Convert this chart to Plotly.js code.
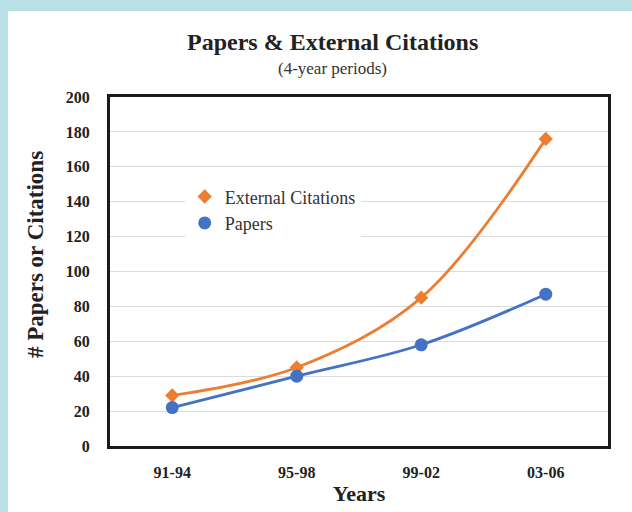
<!DOCTYPE html>
<html>
<head>
<meta charset="utf-8">
<script src="https://cdn.plot.ly/plotly-3.0.1.min.js"></script>
<style>
  html, body { margin: 0; padding: 0; width: 632px; height: 512px; background: #b9e1e5; overflow: hidden; }
  #panel { position: absolute; left: 8px; top: 11px; width: 624px; height: 501px; background: #ffffff; }
  #chart { position: absolute; left: 0; top: 0; width: 632px; height: 512px; }
</style>
</head>
<body>
<div id="panel"></div>
<div id="chart"></div>
<script>
const periods = ['91-94', '95-98', '99-02', '03-06'];
const citations = [29, 45, 85, 176];
const papers = [22, 40, 58, 87];
const yTicks = [0, 20, 40, 60, 80, 100, 120, 140, 160, 180, 200];

const orange = '#ed7d31';
const blue = '#4472c4';
const serif = 'Liberation Serif';

const traces = [
  { x: periods, y: citations, type: 'scatter', mode: 'lines', line: { color: orange, width: 2.8, shape: 'spline', smoothing: 1 }, showlegend: false, hoverinfo: 'skip' },
  { x: periods, y: papers, type: 'scatter', mode: 'lines', line: { color: blue, width: 2.8, shape: 'spline', smoothing: 1 }, showlegend: false, hoverinfo: 'skip' },
  { x: periods, y: citations, type: 'scatter', mode: 'markers', name: 'External Citations', marker: { symbol: 'diamond', size: 11, color: orange } },
  { x: periods, y: papers, type: 'scatter', mode: 'markers', name: 'Papers', marker: { symbol: 'circle', size: 13, color: blue } }
];

const layout = {
  width: 632, height: 512,
  margin: { l: 110, r: 24, t: 97, b: 66 },
  paper_bgcolor: 'rgba(0,0,0,0)',
  plot_bgcolor: '#ffffff',
  font: { family: serif, color: '#222' },
  xaxis: {
    type: 'category', range: [-0.5, 3.5],
    showgrid: false, zeroline: false,
    showline: true, mirror: true, linecolor: '#1a1a1a', linewidth: 3,
    ticks: '', ticklabelstandoff: 10,
    tickfont: { family: serif, size: 16, color: '#222', weight: 'bold' },
    title: { text: 'Years', font: { family: serif, size: 22, color: '#222', weight: 'bold' }, standoff: 6 }
  },
  yaxis: {
    range: [0, 200], tickvals: yTicks, ticktext: yTicks.map(String),
    showgrid: true, gridcolor: '#dcdcdc', gridwidth: 1, zeroline: false,
    showline: true, mirror: true, linecolor: '#1a1a1a', linewidth: 3,
    ticks: '', ticklabelstandoff: 14,
    tickfont: { family: serif, size: 16, color: '#222', weight: 'bold' }
  },
  legend: {
    x: 0.15, y: 0.767, xanchor: 'left', yanchor: 'top',
    bgcolor: '#ffffff', borderwidth: 0,
    font: { family: serif, size: 18, color: '#333' },
    tracegroupgap: 0
  },
  annotations: [
    { text: 'Papers & External Citations', xref: 'paper', yref: 'paper', x: 0.446, y: 1, yshift: 55, xanchor: 'center', yanchor: 'middle', showarrow: false,
      font: { family: serif, size: 24, color: '#222', weight: 'bold' } },
    { text: '(4-year periods)', xref: 'paper', yref: 'paper', x: 0.446, y: 1, yshift: 29, xanchor: 'center', yanchor: 'middle', showarrow: false,
      font: { family: serif, size: 17, color: '#333' } },
    { text: '# Papers or Citations', xref: 'paper', yref: 'paper', x: 0, xshift: -75, y: 0.547, xanchor: 'center', yanchor: 'middle', textangle: -90, showarrow: false,
      font: { family: serif, size: 23, color: '#222', weight: 'bold' } }
  ],
  showlegend: true
};

Plotly.newPlot('chart', traces, layout, { displayModeBar: false, staticPlot: true });
</script>
</body>
</html>
